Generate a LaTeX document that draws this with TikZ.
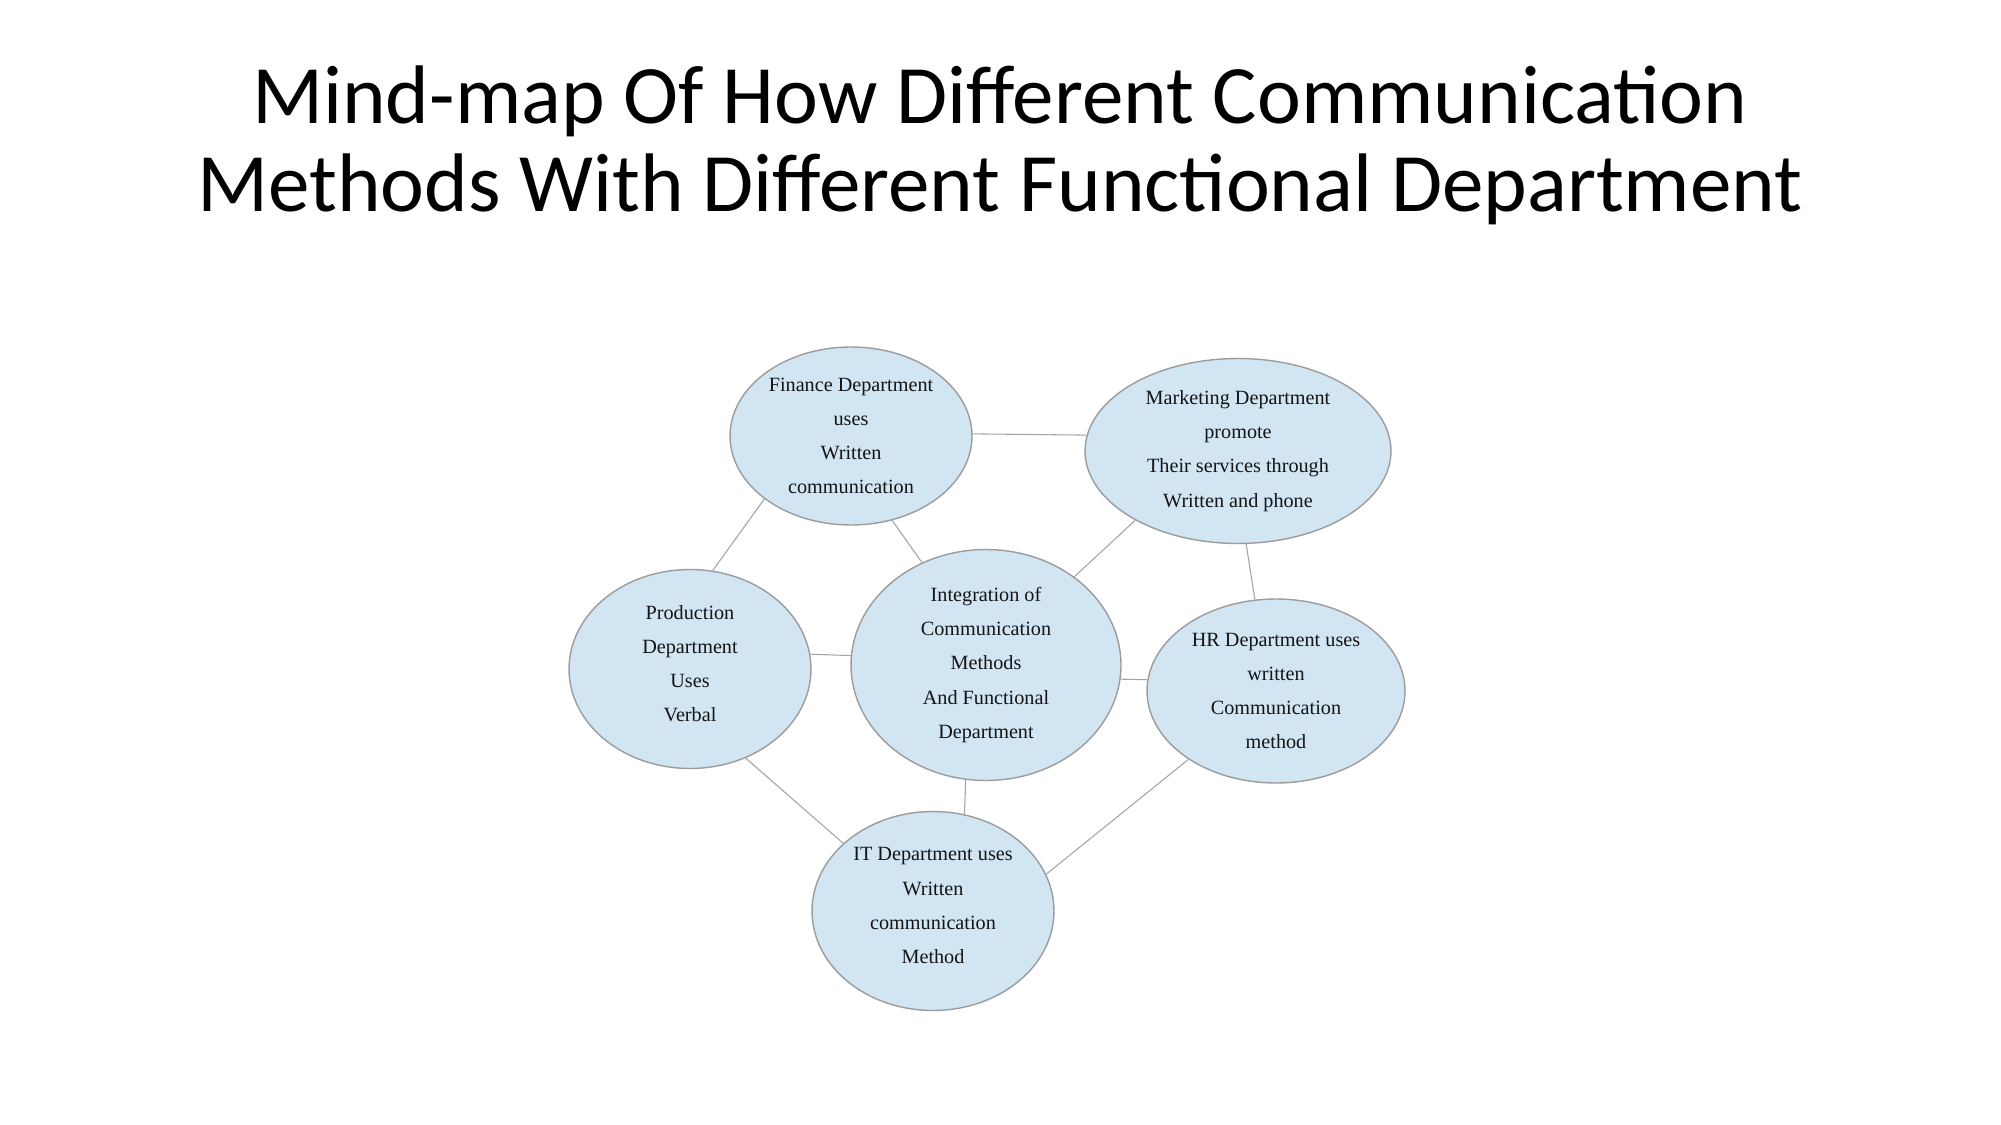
\documentclass[tikz,border=0pt]{standalone}
\usepackage{fontspec}
\setmainfont{Liberation Serif}
\newfontfamily\titlefont{Carlito}
\usetikzlibrary{shapes.geometric}
\definecolor{bubblefill}{HTML}{D2E5F3}
\definecolor{bubbleline}{HTML}{9C9C9C}
\definecolor{linkgray}{HTML}{A4A4A4}

\begin{document}
\begin{tikzpicture}[x=0.02cm,y=-0.02cm,
  bubble/.style={ellipse,draw=bubbleline,fill=bubblefill,line width=0.8pt,inner sep=0pt},
  txt/.style={align=center,text=black!92,font=\fontsize{11.5}{19.5}\selectfont},
  link/.style={draw=linkgray,line width=0.6pt},
  heading/.style={font=\titlefont\fontsize{47.3}{50}\selectfont,anchor=base}]
\fill[white] (0,0) rectangle (2001,1125);
\useasboundingbox (0,0) rectangle (2001,1125);
% title
\node[heading] (title1) at (1000,124) {Mind-map Of How Different Communication};
\node[heading] (title2) at (1000,212) {Methods With Different Functional Department};
% bubbles
\node[bubble,minimum width=4.84cm,minimum height=3.56cm,
  label={[txt]center:Finance Department\\uses\\Written\\communication}] (fin) at (851,436) {};
\node[bubble,minimum width=6.12cm,minimum height=3.70cm,
  label={[txt]center:Marketing Department\\promote\\Their services through\\Written and phone}] (mkt) at (1238,451) {};
\node[bubble,minimum width=4.84cm,minimum height=3.98cm,
  label={[txt,yshift=3pt]center:Production\\Department\\Uses\\Verbal}] (prod) at (690,669) {};
\node[bubble,minimum width=5.40cm,minimum height=4.62cm,
  label={[txt]center:Integration of\\Communication\\Methods\\And Functional\\Department}] (hub) at (986,665) {};
\node[bubble,minimum width=5.16cm,minimum height=3.68cm,
  label={[txt]center:HR Department uses\\written\\Communication\\method}] (hr) at (1276,691) {};
\node[bubble,minimum width=4.84cm,minimum height=3.98cm,
  label={[txt,yshift=3pt]center:IT Department uses\\Written\\communication\\Method}] (it) at (933,911) {};
% links
\draw[link] (fin.1) -- (mkt.174);
\draw[link] (fin.216) -- (prod.77);
\draw[link] (fin.296) -- (hub.122);
\draw[link] (mkt.214) -- (hub.45);
\draw[link] (mkt.275) -- (hr.103);
\draw[link] (prod.7) -- (hub.176);
\draw[link] (hub.354) -- (hr.175);
\draw[link] (prod.302) -- (it.143);
\draw[link] (hub.260) -- (it.72);
\draw[link] (hr.218) -- (it.18);
\end{tikzpicture}
\end{document}
